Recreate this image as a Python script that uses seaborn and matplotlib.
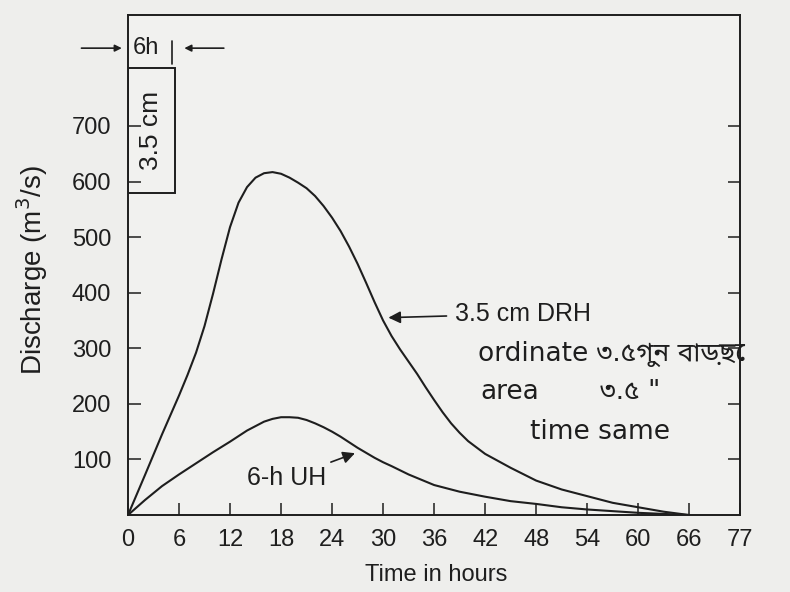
import matplotlib
matplotlib.use("Agg")
import matplotlib.pyplot as plt
import seaborn as sns
import pandas as pd
from matplotlib.patches import Rectangle

# ---- data ----
hours_drh = [0, 2, 4, 6, 7, 8, 9, 10, 11, 12, 13, 14, 15, 16, 17, 18, 19, 20, 21, 22, 23, 24,
             25, 26, 27, 28, 29, 30, 31, 32, 33, 34, 35, 36, 37, 38, 39, 40, 42, 45, 48, 51,
             54, 57, 60, 63, 66]
drh = [0, 72, 145, 215, 252, 292, 340, 398, 460, 518, 562, 590, 607, 615, 617, 614, 607, 598, 588, 574, 556, 535,
       511, 483, 452, 418, 383, 350, 322, 298, 276, 254, 230, 207, 185, 165, 148, 133, 110, 85, 62, 46,
       34, 22, 14, 6, 0]

hours_uh = [0, 2, 4, 6, 8, 10, 12, 14, 16, 17, 18, 19, 20, 21, 22, 23, 24, 25, 26, 27, 28,
            29, 30, 31, 33, 36, 39, 42, 45, 48, 51, 54, 57, 60, 63, 66]
uh = [0, 27, 52, 73, 93, 113, 132, 152, 168, 173, 176, 176, 175, 171, 165, 158, 150, 141, 131, 121, 112,
      103, 95, 88, 73, 54, 42, 33, 25, 20, 14, 10, 7, 4, 2, 0]

xtick_pos = [0, 6, 12, 18, 24, 30, 36, 42, 48, 54, 60, 66, 72]
xtick_labels = ["0", "6", "12", "18", "24", "30", "36", "42", "48", "54", "60", "66", "77"]
ytick_vals = [100, 200, 300, 400, 500, 600, 700]

rain_duration_h = 6
rain_depth_label = "3.5 cm"

df = pd.concat([
    pd.DataFrame({"Time": hours_drh, "Q": drh, "series": "3.5 cm DRH"}),
    pd.DataFrame({"Time": hours_uh, "Q": uh, "series": "6-h UH"}),
])

sns.set_style("ticks")
plt.rcParams["font.family"] = ["Liberation Sans", "DejaVu Sans"]
narrow = ["Liberation Sans Narrow", "Liberation Sans", "DejaVu Sans"]
hand = ["DejaVu Sans", "Noto Sans Bengali"]

bg = "#eeeeec"
ink = "#1e1e1e"
fig = plt.figure(figsize=(7.9, 5.92), dpi=100, facecolor=bg)
ax = fig.add_axes([0.162, 0.13, 0.775, 0.845], facecolor="#f1f1ef")

sns.lineplot(data=df, x="Time", y="Q", hue="series", palette=[ink, ink],
             legend=False, ax=ax, linewidth=1.5, sort=False)

ax.set_xlim(0, 72)
ax.set_ylim(0, 900)
ax.set_xticks(xtick_pos)
ax.set_xticklabels(xtick_labels)
ax.set_yticks(ytick_vals)
ax.set_yticklabels([str(v) for v in ytick_vals])
ax.tick_params(direction="in", length=9, width=1.1, colors=ink, labelsize=17, pad=10)
ax.tick_params(axis="y", right=True, labelright=False, pad=12)
for lab in ax.get_xticklabels() + ax.get_yticklabels():
    lab.set_family(narrow)
ax.set_xlabel("Time in hours", fontsize=17, color=ink, family=narrow)
ax.set_ylabel("Discharge (m$^3$/s)", fontsize=20, color=ink)
ax.xaxis.set_label_coords(0.503, -0.098)
ax.yaxis.set_label_coords(-0.128, 0.49)
for s in ax.spines.values():
    s.set_color(ink)
    s.set_linewidth(1.4)
    s.set_visible(True)

# rainfall block
ax.add_patch(Rectangle((0, 580), rain_duration_h * 0.92, 225, fill=False, edgecolor=ink, lw=1.4))
ax.text(rain_duration_h * 0.46, 692, rain_depth_label, rotation=90, ha="center", va="center",
        fontsize=19, color=ink)
ax.text(0.6, 840, "6h", ha="left", va="center", fontsize=17, color=ink)
ax.plot([5.2, 5.2], [812, 852], color=ink, lw=1.2)
ax.annotate("", xy=(-0.4, 840), xytext=(-5.8, 840),
            arrowprops=dict(arrowstyle="-|>", color=ink, lw=1.2), annotation_clip=False)
ax.annotate("", xy=(6.3, 840), xytext=(11.6, 840),
            arrowprops=dict(arrowstyle="-|>", color=ink, lw=1.2), annotation_clip=False)

# curve labels
ax.annotate("3.5 cm DRH", xy=(30.3, 355), xytext=(38.5, 362), ha="left", va="center",
            fontsize=18, color=ink,
            arrowprops=dict(arrowstyle="-|>", color=ink, lw=1.2, shrinkA=4))
ax.annotate("6-h UH", xy=(27.0, 113), xytext=(18.7, 66), ha="center", va="center",
            fontsize=18, color=ink,
            arrowprops=dict(arrowstyle="-|>", color=ink, lw=1.2, shrinkA=2))

# handwritten notes
ax.text(41.2, 290, "ordinate ৩.৫গুন বাড়ছে", fontsize=19, color=ink,
        family=hand, va="center", clip_on=False)
ax.text(41.5, 222, "area", fontsize=19, color=ink, family=hand, va="center")
ax.text(55.5, 222, "৩.৫ \"", fontsize=19, color=ink, family=hand, va="center")
ax.text(47.3, 150, "time same", fontsize=19, color=ink, family=hand, va="center")

fig.savefig("out.png", dpi=100, facecolor=bg)
